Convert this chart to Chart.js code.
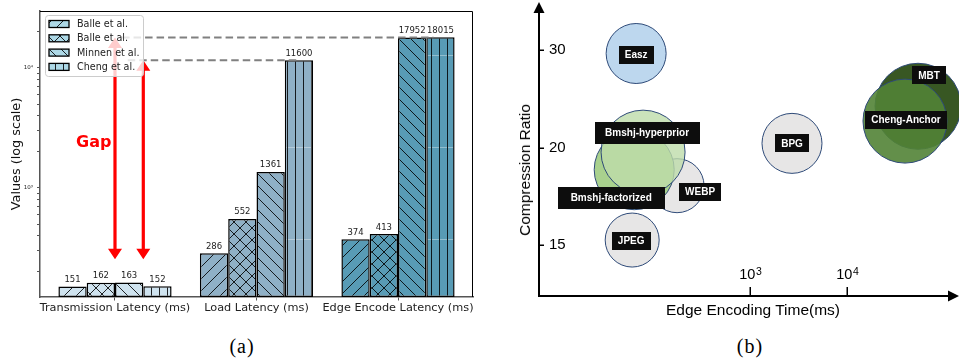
<!DOCTYPE html>
<html>
<head>
<meta charset="utf-8">
<script src="https://cdn.jsdelivr.net/npm/chart.js@4.4.0/dist/chart.umd.min.js"></script>
<style>
  html, body { margin: 0; padding: 0; background: #fff; }
  #wrap { position: relative; width: 959px; height: 360px; overflow: hidden; }
  canvas { position: absolute; top: 0; }
  #latency { left: 0; }
  #tradeoff { left: 480px; }
  .cap { position: absolute; top: 346px; transform: translate(-50%, -50%);
         font-family: "Liberation Serif", "Times New Roman", serif; font-size: 20px;
         letter-spacing: 1px; color: #000; white-space: nowrap; }
  .ttl { position: absolute; transform: translate(-50%, -50%);
         font-family: "Liberation Sans", Arial, sans-serif; font-size: 15.5px;
         color: #000; white-space: nowrap; }
</style>
</head>
<body>
<div id="wrap">
  <canvas id="latency" width="480" height="325"></canvas>
  <canvas id="tradeoff" width="479" height="330"></canvas>
  <div class="cap" style="left:242px">(a)</div>
  <div class="cap" style="left:750px">(b)</div>
  <div class="ttl" style="left:753px; top:310px">Edge Encoding Time(ms)</div>
  <div class="ttl" style="left:525px; top:170px; transform:translate(-50%,-50%) rotate(-90deg)">Compression Ratio</div>
</div>
<script>
// ---------- (a) latency comparison ----------
const latencyCategories = ['Transmission Latency (ms)', 'Load Latency (ms)', 'Edge Encode Latency (ms)'];
const methodNames = ['Balle et al.', 'Balle et al.', 'Minnen et al.', 'Cheng et al.'];
const balleFactorized = [151, 286, 374];
const balleHyperprior = [162, 552, 413];
const minnen = [163, 1361, 17952];
const cheng = [152, 11600, 18015];
const latencyTickValues = [200, 300, 400, 500, 600, 700, 800, 900, 1000,
  2000, 3000, 4000, 5000, 6000, 7000, 8000, 9000, 10000, 20000];
const latencyTickLabels = { 1000: '10³', 10000: '10⁴' };

// gap annotations (data units)
const gapArrows = [{ x: 0, from: 255, to: 17952 }, { x: 0.2, from: 255, to: 11600 }];
const gapLines = [{ y: 17952, x0: 0.05, x1: 2.25 }, { y: 11600, x0: 0.09, x1: 1.3 }];
const gapLabel = { x: -0.15, y: 2400, text: 'Gap' };

// styles
const groupColors = ['#cfe3ef', '#8fb0c6', '#589bb5'];
const hatchKinds = ['/', 'x', '\\', '|'];
const legendPatchColor = '#add8e6';

function hatch(color, kind) {
  const s = kind === '|' ? 8 : 12;
  const h = kind === '|' ? 92 : s;
  const c = document.createElement('canvas');
  c.width = s; c.height = h;
  const g = c.getContext('2d');
  g.fillStyle = color;
  g.fillRect(0, 0, s, h);
  g.strokeStyle = 'rgba(0,0,0,0.85)';
  g.lineWidth = 1;
  g.beginPath();
  if (kind === '/' || kind === 'x') {
    g.moveTo(-1, s + 1); g.lineTo(s + 1, -1);
    g.moveTo(-1, 1); g.lineTo(1, -1);
    g.moveTo(s - 1, s + 1); g.lineTo(s + 1, s - 1);
  }
  if (kind === '\\' || kind === 'x') {
    g.moveTo(-1, -1); g.lineTo(s + 1, s + 1);
    g.moveTo(s - 1, -1); g.lineTo(s + 1, 1);
    g.moveTo(-1, s - 1); g.lineTo(1, s + 1);
  }
  if (kind === '|') {
    g.moveTo(7.5, 0); g.lineTo(7.5, h);
  }
  g.stroke();
  if (kind === '|') {
    g.fillStyle = 'rgba(255,255,255,0.35)';
    g.fillRect(0, 55, 7, 1);
  }
  return g.createPattern(c, 'repeat');
}

const latencySeries = [balleFactorized, balleHyperprior, minnen, cheng];

const gapNotes = {
  id: 'gapNotes',
  afterDatasetsDraw(chart) {
    const { ctx, chartArea: a, scales: { x, y } } = chart;
    ctx.save();
    // top and right spines
    ctx.strokeStyle = '#000';
    ctx.lineWidth = 1;
    ctx.beginPath();
    ctx.moveTo(a.left, a.top + 0.5);
    ctx.lineTo(a.right - 0.5, a.top + 0.5);
    ctx.lineTo(a.right - 0.5, a.bottom);
    ctx.stroke();

    // value labels on bars
    ctx.font = '8.5px "DejaVu Sans"';
    ctx.fillStyle = '#222';
    ctx.textAlign = 'center';
    ctx.textBaseline = 'bottom';
    chart.data.datasets.forEach((ds, k) => {
      chart.getDatasetMeta(k).data.forEach((bar, i) => {
        ctx.fillText(String(ds.data[i].y), bar.x, bar.y - 2.5);
      });
    });

    // dashed reference levels
    ctx.setLineDash([7.5, 4]);
    ctx.strokeStyle = '#808080';
    ctx.lineWidth = 2;
    gapLines.forEach(l => {
      const py = y.getPixelForValue(l.y);
      ctx.beginPath();
      ctx.moveTo(x.getPixelForValue(l.x0), py);
      ctx.lineTo(x.getPixelForValue(l.x1), py);
      ctx.stroke();
    });
    ctx.setLineDash([]);

    // double-headed red arrows
    ctx.fillStyle = '#ff0000';
    gapArrows.forEach(ar => {
      const px = x.getPixelForValue(ar.x);
      const yb = y.getPixelForValue(ar.from);
      const yt = y.getPixelForValue(ar.to);
      const hw = 7, hl = 10.5, sw = 1.6;
      ctx.beginPath();
      ctx.moveTo(px, yt);
      ctx.lineTo(px + hw, yt + hl);
      ctx.lineTo(px + sw, yt + hl);
      ctx.lineTo(px + sw, yb - hl);
      ctx.lineTo(px + hw, yb - hl);
      ctx.lineTo(px, yb);
      ctx.lineTo(px - hw, yb - hl);
      ctx.lineTo(px - sw, yb - hl);
      ctx.lineTo(px - sw, yt + hl);
      ctx.lineTo(px - hw, yt + hl);
      ctx.closePath();
      ctx.fill();
    });

    // "Gap" label
    ctx.font = 'bold 16px "DejaVu Sans"';
    ctx.textAlign = 'center';
    ctx.textBaseline = 'middle';
    ctx.fillText(gapLabel.text, x.getPixelForValue(gapLabel.x), y.getPixelForValue(gapLabel.y));

    // legend box
    const lx = a.left + 5, ly = a.top + 4, lw = 98, lh = 61;
    ctx.beginPath();
    ctx.roundRect(lx + 0.5, ly + 0.5, lw, lh, 3);
    ctx.fillStyle = 'rgba(255,255,255,0.8)';
    ctx.fill();
    ctx.strokeStyle = '#cccccc';
    ctx.lineWidth = 1;
    ctx.stroke();
    ctx.font = '9.6px "DejaVu Sans"';
    ctx.textAlign = 'left';
    ctx.textBaseline = 'middle';
    chart.data.datasets.forEach((ds, k) => {
      const cy = ly + 9 + 14.3 * k;
      ctx.fillStyle = hatch(legendPatchColor, hatchKinds[k]);
      ctx.fillRect(lx + 4, cy - 3.5, 20, 7);
      ctx.strokeStyle = '#000';
      ctx.lineWidth = 1.3;
      ctx.strokeRect(lx + 4, cy - 3.5, 20, 7);
      ctx.fillStyle = '#222';
      ctx.fillText(ds.label, lx + 32, cy + 0.5);
    });
    ctx.restore();
  }
};

new Chart(document.getElementById('latency'), {
  type: 'bar',
  data: {
    datasets: latencySeries.map((vals, k) => ({
      label: methodNames[k],
      data: vals.map((v, i) => ({ x: i, y: v })),
      backgroundColor: groupColors.map(c => hatch(c, hatchKinds[k])),
      borderColor: '#000',
      borderWidth: 1.5,
      borderSkipped: false,
      barPercentage: 1,
      categoryPercentage: 0.8
    }))
  },
  options: {
    responsive: false,
    animation: false,
    devicePixelRatio: 1,
    layout: { autoPadding: false, padding: { left: 0, right: 7, top: 11, bottom: 0 } },
    plugins: { legend: { display: false }, tooltip: { enabled: false } },
    scales: {
      x: {
        type: 'linear', min: -0.53, max: 2.53, bounds: 'data', offset: false,
        afterBuildTicks: s => { s.ticks = latencyCategories.map((_, i) => ({ value: i })); },
        afterFit: s => { s.height = 28; s.paddingLeft = 0; s.paddingRight = 0; },
        ticks: {
          callback: v => latencyCategories[v] ?? '',
          font: { family: 'DejaVu Sans', size: 11.3 }, color: '#222',
          padding: 1, maxRotation: 0, autoSkip: false
        },
        grid: { drawOnChartArea: false, offset: false, tickLength: 3.5, color: '#555' },
        border: { color: '#555', width: 1.5 }
      },
      y: {
        type: 'logarithmic', min: 123.5, max: 29850, bounds: 'data',
        afterBuildTicks: s => { s.ticks = latencyTickValues.map(v => ({ value: v })); },
        afterFit: s => { s.width = 40; s.paddingTop = 0; s.paddingBottom = 0; },
        ticks: {
          callback: v => latencyTickLabels[v] || '',
          autoSkip: false, font: { family: 'DejaVu Sans', size: 5.5 }, color: '#222', padding: 4
        },
        grid: { drawOnChartArea: false, tickLength: 3, color: '#555' },
        border: { color: '#555', width: 1.5 },
        title: {
          display: true, text: 'Values (log scale)',
          font: { family: 'DejaVu Sans', size: 12.8 }, color: '#111',
          padding: { top: 8.8, bottom: 0 }
        }
      }
    }
  },
  plugins: [gapNotes]
});

// ---------- (b) ratio vs. encoding time ----------
const codecNames = ['Easz', 'JPEG', 'WEBP', 'BPG', 'Bmshj-factorized', 'Bmshj-hyperprior', 'MBT', 'Cheng-Anchor'];
const encodeTimeMs = [67, 61, 177, 2710, 64, 79, 54000, 39600];
const compressionRatio = [29.5, 15.2, 17.7, 20.3, 18.6, 19.7, 23.3, 22.0];
const bubbleRadius = [30, 27, 27, 30, 40, 42, 43, 42];
const timeTicks = [1000, 10000];
const timeTickBase = ['10', '10'];
const timeTickExponent = ['3', '4'];
const ratioTicks = [15, 20, 30];

const codecFill = ['#bdd7ee', '#e7e6e6', '#e7e6e6', '#e7e6e6', '#a9d18e',
  'rgba(190,220,170,0.8)', '#385723', 'rgba(82,131,54,0.9)'];
// name tag placement: [dx, dy, width, height] around each bubble
const tagBoxes = [[0, 1, 35, 18], [-1, 1, 39, 18], [23, 6, 42, 18], [0, 0, 34, 18],
  [-23, 28, 107, 22], [4, -19, 105, 22], [11, -31, 34, 18], [1, -1, 82, 18]];

// vertical axis spaced by the reciprocal of the ratio
class ReciprocalScale extends Chart.LinearScale {
  static id = 'reciprocal';
  static defaults = {};
  getPixelForValue(value) {
    const a = 1 / this.min, b = 1 / this.max;
    return this.getPixelForDecimal((a - 1 / value) / (a - b));
  }
  getValueForPixel(pixel) {
    const a = 1 / this.min, b = 1 / this.max;
    return 1 / (a - this.getDecimalForPixel(pixel) * (a - b));
  }
}
Chart.register(ReciprocalScale);

const arrowAxes = {
  id: 'arrowAxes',
  afterDatasetsDraw(chart) {
    const { ctx, chartArea: a, scales: { x, y } } = chart;
    ctx.save();
    ctx.strokeStyle = '#000';
    ctx.fillStyle = '#000';
    ctx.lineWidth = 2;
    ctx.beginPath();
    ctx.moveTo(a.left, a.bottom + 1);
    ctx.lineTo(a.left, 12);
    ctx.stroke();
    ctx.beginPath();
    ctx.moveTo(a.left - 1, a.bottom);
    ctx.lineTo(chart.width - 10, a.bottom);
    ctx.stroke();
    ctx.beginPath();
    ctx.moveTo(a.left, 2);
    ctx.lineTo(a.left + 5.5, 13);
    ctx.lineTo(a.left - 5.5, 13);
    ctx.closePath();
    ctx.fill();
    ctx.beginPath();
    ctx.moveTo(chart.width, a.bottom);
    ctx.lineTo(chart.width - 11, a.bottom - 5.5);
    ctx.lineTo(chart.width - 11, a.bottom + 5.5);
    ctx.closePath();
    ctx.fill();

    ctx.lineWidth = 1.5;
    timeTicks.forEach((v, i) => {
      const px = Math.round(x.getPixelForValue(v)) + 0.25;
      ctx.beginPath();
      ctx.moveTo(px, a.bottom);
      ctx.lineTo(px, a.bottom - 9);
      ctx.stroke();
      // power-of-ten label with raised exponent
      ctx.textBaseline = 'alphabetic';
      ctx.textAlign = 'left';
      ctx.font = '14.5px "Liberation Sans"';
      const wb = ctx.measureText(timeTickBase[i]).width;
      ctx.font = '10.5px "Liberation Sans"';
      const we = ctx.measureText(timeTickExponent[i]).width;
      const x0 = px - (wb + we) / 2;
      ctx.font = '14.5px "Liberation Sans"';
      ctx.fillText(timeTickBase[i], x0, a.bottom - 17);
      ctx.font = '10.5px "Liberation Sans"';
      ctx.fillText(timeTickExponent[i], x0 + wb + 0.5, a.bottom - 21);
    });
    ratioTicks.forEach(v => {
      const py = Math.round(y.getPixelForValue(v)) + 0.25;
      ctx.beginPath();
      ctx.moveTo(a.left, py);
      ctx.lineTo(a.left + 5, py);
      ctx.stroke();
    });

    // name tags
    ctx.font = 'bold 10px "Liberation Sans"';
    ctx.textAlign = 'center';
    ctx.textBaseline = 'middle';
    chart.getDatasetMeta(0).data.forEach((pt, i) => {
      const [dx, dy, w, h] = tagBoxes[i];
      const cx = pt.x + dx, cy = pt.y + dy;
      ctx.fillStyle = '#0d0d0d';
      ctx.fillRect(Math.round(cx - w / 2), Math.round(cy - h / 2), w, h);
      ctx.fillStyle = '#ffffff';
      ctx.fillText(codecNames[i], cx, cy + 0.5);
    });
    ctx.restore();
  }
};

new Chart(document.getElementById('tradeoff'), {
  type: 'bubble',
  data: {
    datasets: [{
      data: codecNames.map((n, i) => ({ x: encodeTimeMs[i], y: compressionRatio[i], r: bubbleRadius[i] })),
      backgroundColor: codecFill,
      borderColor: '#2e4a78',
      borderWidth: 1,
      clip: false
    }]
  },
  options: {
    responsive: false,
    animation: false,
    devicePixelRatio: 1,
    layout: { autoPadding: false, padding: { left: 0, right: 9, top: 10, bottom: 0 } },
    plugins: { legend: { display: false }, tooltip: { enabled: false } },
    scales: {
      x: {
        type: 'logarithmic', min: 6.679, max: 115320, bounds: 'data', offset: false,
        afterBuildTicks: s => { s.ticks = timeTicks.map(v => ({ value: v })); },
        afterFit: s => { s.height = 34; s.paddingLeft = 0; s.paddingRight = 0; },
        ticks: { display: false },
        grid: { display: false },
        border: { display: false }
      },
      y: {
        type: 'reciprocal', min: 13.271, max: 37.79, bounds: 'data', offset: false,
        afterBuildTicks: s => { s.ticks = ratioTicks.map(v => ({ value: v })); },
        afterFit: s => { s.width = 59; s.paddingTop = 0; s.paddingBottom = 0; },
        ticks: {
          mirror: true, padding: 10, autoSkip: false,
          callback: v => String(v),
          font: { family: 'Liberation Sans', size: 15 }, color: '#000'
        },
        grid: { display: false },
        border: { display: false }
      }
    }
  },
  plugins: [arrowAxes]
});
</script>
</body>
</html>
